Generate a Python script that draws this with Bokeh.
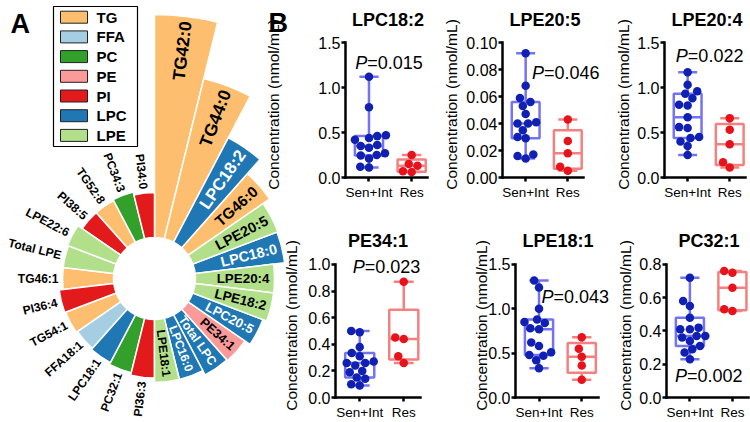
import numpy as np
from bokeh.plotting import figure
from bokeh.layouts import row, column
from bokeh.models import (Range1d, ColumnDataSource, FixedTicker,
                          PrintfTickFormatter, Label)
from bokeh.core.properties import value
from bokeh.embed import file_html
from bokeh.resources import INLINE

# ---------------- Panel A data ----------------
lipid_names = ["TG42:0", "TG44:0", "LPC18:2", "TG46:0", "LPE20:5", "LPC18:0",
               "LPE20:4", "LPE18:2", "LPC20:5", "PE34:1", "Total LPC", "LPC16:0",
               "LPE18:1", "PI36:3", "PC32:1", "LPC18:1", "FFA18:1", "TG54:1",
               "PI36:4", "TG46:1", "Total LPE", "LPE22:6", "PI38:5", "TG52:8",
               "PC34:3", "PI34:0"]
lipid_class = ["TG", "TG", "LPC", "TG", "LPE", "LPC", "LPE", "LPE", "LPC", "PE",
               "LPC", "LPC", "LPE", "PI", "PC", "LPC", "FFA", "TG", "PI", "TG",
               "LPE", "LPE", "PI", "TG", "PC", "PI"]
bar_values = [11.15, 8.25, 5.9, 4.95, 4.55, 4.5, 3.95, 3.95, 3.75, 3.45, 3.4,
              3.15, 3.15, 2.93, 2.8, 2.7, 2.63, 2.7, 2.75, 2.55, 2.55, 2.6,
              2.35, 2.35, 2.4, 2.25]
class_order = ["TG", "FFA", "PC", "PE", "PI", "LPC", "LPE"]
class_colors = ["#FDBF6F", "#A6CEE3", "#33A02C", "#FB9A99", "#E31A1C",
                "#1F78B4", "#B2DF8A"]

# ---------------- Panel B data ----------------
groups = ["Sen+Int", "Res"]
lpc182_sen = [0.11, 0.12, 0.21, 0.245, 0.25, 0.27, 0.33, 0.35, 0.36, 0.42, 0.44, 0.46, 0.47, 0.78, 1.12]
lpc182_res = [0.06, 0.07, 0.13, 0.15, 0.25]
lpe205_sen = [0.014, 0.016, 0.017, 0.029, 0.030, 0.035, 0.040, 0.040, 0.041, 0.047, 0.053, 0.056, 0.059, 0.068, 0.092]
lpe205_res = [0.005, 0.008, 0.018, 0.027, 0.043]
lpe204_sen = [0.25, 0.35, 0.40, 0.44, 0.45, 0.55, 0.56, 0.67, 0.80, 0.81, 0.88, 0.93, 0.96, 1.03, 1.17]
lpe204_res = [0.11, 0.17, 0.37, 0.53, 0.66]
pe341_sen = [0.09, 0.10, 0.14, 0.15, 0.19, 0.20, 0.24, 0.26, 0.26, 0.27, 0.31, 0.335, 0.38, 0.49, 0.50]
pe341_res = [0.26, 0.31, 0.44, 0.45, 0.87]
lpe181_sen = [0.33, 0.42, 0.47, 0.48, 0.51, 0.58, 0.62, 0.77, 0.78, 0.84, 0.85, 0.88, 1.00, 1.24, 1.32]
lpe181_res = [0.20, 0.36, 0.46, 0.55, 0.68]
pc321_sen = [0.23, 0.27, 0.29, 0.31, 0.34, 0.36, 0.37, 0.37, 0.41, 0.41, 0.42, 0.48, 0.55, 0.58, 0.72]
pc321_res = [0.52, 0.53, 0.66, 0.75, 0.76]
panel_titles = ["LPC18:2", "LPE20:5", "LPE20:4", "PE34:1", "LPE18:1", "PC32:1"]
p_values = ["0.015", "0.046", "0.022", "0.023", "0.043", "0.002"]
y_max = [1.5, 0.10, 1.5, 1.0, 1.5, 0.8]
y_ticks = [[0, 0.5, 1.0, 1.5], [0, 0.02, 0.04, 0.06, 0.08, 0.10], [0, 0.5, 1.0, 1.5],
           [0, 0.2, 0.4, 0.6, 0.8, 1.0], [0, 0.5, 1.0, 1.5], [0, 0.2, 0.4, 0.6, 0.8]]
y_fmt = ["%.1f", "%.2f", "%.1f", "%.1f", "%.1f", "%.1f"]
sen_data = [lpc182_sen, lpe205_sen, lpe204_sen, pe341_sen, lpe181_sen, pc321_sen]
res_data = [lpc182_res, lpe205_res, lpe204_res, pe341_res, lpe181_res, pc321_res]

# ---------------- style / layout ----------------
FONT = "Liberation Sans"
BLUE_BOX, BLUE_PT = "#7474F2", "#1020B2"
RED_BOX, RED_PT = "#F48080", "#E8121C"

# ================= Panel A: circular bar chart =================
R0 = 41.0
PX_PER_UNIT = 20.0
n = len(lipid_names)
step = 2 * np.pi / n
idx = np.arange(n)
outer = R0 + np.array(bar_values) * PX_PER_UNIT
start_angle = np.pi / 2 - (idx + 1) * step
end_angle = np.pi / 2 - idx * step
phi = np.pi / 2 - (idx + 0.5) * step
right_side = (idx + 0.5) * step < np.pi

pol = figure(width=300, height=422, x_range=Range1d(-154, 146), y_range=Range1d(-144, 278),
             x_axis_type=None, y_axis_type=None, output_backend="svg",
             toolbar_location=None, min_border=0)
pol.min_border_left = pol.min_border_right = pol.min_border_top = pol.min_border_bottom = 0
pol.grid.visible = False
pol.outline_line_color = None
pol.background_fill_alpha = 0
pol.border_fill_alpha = 0

cmap = dict(zip(class_order, class_colors))
for cls in class_order:
    sel = [i for i in range(n) if lipid_class[i] == cls]
    src = ColumnDataSource(dict(start=start_angle[sel], end=end_angle[sel], outer=outer[sel]))
    pol.annular_wedge(x=0, y=0, inner_radius=R0, outer_radius="outer",
                      start_angle="start", end_angle="end", source=src,
                      fill_color=cmap[cls], line_color="white", line_width=1.5)

in_x, in_y, in_a, in_t, in_c, in_s = [], [], [], [], [], []
out_x, out_y, out_a, out_t = [], [], [], []
for i in range(n):
    if right_side[i]:
        r = outer[i] - 5
        in_x.append(r * np.cos(phi[i])); in_y.append(r * np.sin(phi[i]))
        in_a.append(phi[i]); in_t.append(lipid_names[i])
        in_c.append("white" if lipid_class[i] == "LPC" else "black")
        fs = float(np.clip(12 + (outer[i] - 104) * 0.09, 12, 17.5))
        in_s.append("%.1fpx" % fs)
    else:
        r = outer[i] + 4
        out_x.append(r * np.cos(phi[i])); out_y.append(r * np.sin(phi[i]))
        out_a.append(phi[i] + np.pi); out_t.append(lipid_names[i])

pol.text(x="x", y="y", text="t", angle="a", text_color="c", text_font_size="s",
         source=ColumnDataSource(dict(x=in_x, y=in_y, a=in_a, t=in_t, c=in_c, s=in_s)),
         text_font=value(FONT), text_font_style="bold", text_align="right",
         text_baseline="middle")
pol.text(x="x", y="y", text="t", angle="a",
         source=ColumnDataSource(dict(x=out_x, y=out_y, a=out_a, t=out_t)),
         text_font=value(FONT), text_font_style="bold", text_font_size="12px",
         text_color="black", text_align="right", text_baseline="middle")

pol.text(x=[-144], y=[255], text=["A"], text_font=value(FONT), text_font_style="bold",
         text_font_size="27px", text_baseline="alphabetic", text_align="left")
pol.text(x=[114], y=[256], text=["B"], text_font=value(FONT), text_font_style="bold",
         text_font_size="27px", text_baseline="alphabetic", text_align="left")

# legend box (drawn in the same pixel-sized data space, top-left of panel A)
LEG_L, LEG_R, LEG_T, LEG_B = -101, -17, 272, 132
SW_L, SW_W, SW_H, ROW0, ROW_H = -94, 27, 12, 261.3, 19.7
pol.quad(left=[LEG_L], right=[LEG_R], top=[LEG_T], bottom=[LEG_B],
         fill_color="white", line_color="black", line_width=1.2)
leg_y = [ROW0 - ROW_H * j for j in range(len(class_order))]
pol.quad(left=[SW_L] * len(class_order), right=[SW_L + SW_W] * len(class_order),
         top=[y + SW_H / 2 for y in leg_y], bottom=[y - SW_H / 2 for y in leg_y],
         fill_color=class_colors, line_color="#222222", line_width=1)
pol.text(x=[SW_L + SW_W + 9] * len(class_order), y=leg_y, text=class_order,
         text_font=value(FONT), text_font_style="bold", text_font_size="15px",
         text_color="black", text_align="left", text_baseline="middle")

# ================= Panel B: box plots =================
EXTRA = 0.082
XR0, XR1 = -0.55, 1.38
BW, CW = 0.66, 0.45
fig_w = [178, 172, 138, 208, 144, 136]
fig_h = [211, 211, 211, 211, 211, 211]
b_left = [80, 57, 48, 73, 42, 49]
b_top = [31, 31, 31, 42, 42, 42]
b_bot = [34, 34, 34, 23, 23, 23]
lab_standoff = [33, 3, 2, 5, -5, 2]
title_standoff = [4, 4, 4, 5, 5, 5]
AXIS_W = 85
ptxt_x = [-0.32, 0.15, -0.28, -0.16, 0.06, -0.35]
ptxt_y = [1.277, 0.0773, 1.355, 0.978, 1.13, 0.129]
BOLD_W = {"L": 0.611, "P": 0.667, "C": 0.722, "E": 0.667, ":": 0.333}


def swarm(vals, ppx, ppy, d=8.6):
    vals = np.asarray(vals, float)
    order = np.argsort(vals, kind="stable")
    placed = []
    offs = np.zeros(len(vals))
    cand = [0.0]
    for k in range(1, 60):
        cand += [-k * 0.5, k * 0.5]
    for i in order:
        yv = vals[i] * ppy
        for c in cand:
            if all((c - px) ** 2 + (yv - py) ** 2 >= d * d for px, py in placed):
                offs[i] = c
                placed.append((c, yv))
                break
    return offs / ppx


figs = []
ppx = AXIS_W / (XR1 - XR0)
for k in range(6):
    yend = y_max[k] * (1 + EXTRA)
    frame_w = fig_w[k] - b_left[k]
    p = figure(width=fig_w[k], height=fig_h[k],
               x_range=Range1d(XR0, XR0 + frame_w / ppx),
               y_range=Range1d(0, yend), output_backend="svg", toolbar_location=None,
               title=panel_titles[k])
    p.min_border_left = b_left[k]
    p.min_border_right = 0
    p.min_border_top = b_top[k]
    p.min_border_bottom = b_bot[k]
    p.grid.visible = False
    p.outline_line_color = None
    p.background_fill_alpha = 0
    p.border_fill_alpha = 0
    tw = sum(BOLD_W.get(ch, 0.556) for ch in panel_titles[k]) * 18
    p.title.align = "left"
    p.title.offset = (AXIS_W - tw) / 2
    p.title.text_font = FONT
    p.title.text_font_size = "18px"
    p.title.text_font_style = "bold"
    p.title.text_color = "black"
    p.title.standoff = title_standoff[k]

    for ax in (p.xaxis[0], p.yaxis[0]):
        ax.axis_line_width = 2.5
        ax.axis_line_color = "black"
        ax.axis_line_cap = "square"
        ax.major_tick_line_width = 2.5
        ax.major_tick_line_color = "black"
        ax.major_tick_out = 4
        ax.major_tick_in = 0
        ax.minor_tick_out = 0
        ax.minor_tick_in = 0
        ax.major_label_text_font = FONT
        ax.major_label_text_color = "black"
    p.xaxis.ticker = FixedTicker(ticks=[0, 1])
    p.xaxis.major_label_overrides = {0: groups[0], 1: groups[1]}
    p.xaxis.major_label_text_font_size = "13.5px"
    p.xaxis.major_label_standoff = 3
    p.xaxis.bounds = (XR0, XR1)
    p.yaxis.ticker = FixedTicker(ticks=y_ticks[k])
    p.yaxis.formatter = PrintfTickFormatter(format=y_fmt[k])
    p.yaxis.bounds = (0, y_max[k])
    p.yaxis.major_label_text_font_size = "16px"
    p.yaxis.major_label_standoff = 1
    p.yaxis.axis_label = "Concentration (nmol/mL)"
    p.yaxis.axis_label_text_font = FONT
    p.yaxis.axis_label_text_font_size = "15.5px"
    p.yaxis.axis_label_text_font_style = "normal"
    p.yaxis.axis_label_text_color = "black"
    p.yaxis.axis_label_standoff = lab_standoff[k]

    frame_h = fig_h[k] - b_top[k] - b_bot[k]
    ppy = frame_h / yend

    for gi, (vals, cbox, cpt) in enumerate([(sen_data[k], BLUE_BOX, BLUE_PT),
                                            (res_data[k], RED_BOX, RED_PT)]):
        q1, med, q3 = np.percentile(vals, [25, 50, 75], method="weibull")
        lo, hi = min(vals), max(vals)
        p.segment(x0=[gi, gi, gi - CW / 2, gi - CW / 2],
                  y0=[q3, q1, hi, lo],
                  x1=[gi, gi, gi + CW / 2, gi + CW / 2],
                  y1=[hi, lo, hi, lo], line_color=cbox, line_width=2.5)
        p.quad(left=[gi - BW / 2], right=[gi + BW / 2], bottom=[q1], top=[q3],
               fill_color=None, line_color=cbox, line_width=2.5)
        p.segment(x0=[gi - BW / 2], y0=[med], x1=[gi + BW / 2], y1=[med],
                  line_color=cbox, line_width=2.5)
        xo = swarm(vals, ppx, ppy)
        p.scatter(x=gi + xo, y=vals, size=8.5, fill_color=cpt, line_color=None)

    p.add_layout(Label(x=ptxt_x[k], y=ptxt_y[k], text="P", text_font=FONT,
                       text_font_style="italic", text_font_size="18px",
                       text_baseline="middle", text_align="left", text_color="black"))
    p.add_layout(Label(x=ptxt_x[k], y=ptxt_y[k], text="=" + p_values[k], x_offset=12,
                       text_font=FONT, text_font_size="18px", text_baseline="middle",
                       text_align="left", text_color="black"))
    figs.append(p)

grid = column(row(figs[0], figs[1], figs[2]), row(figs[3], figs[4], figs[5]),
              margin=(0, 0, 0, -38))
layout = row(pol, grid)

open("out.html", "w").write(file_html(layout, INLINE))
